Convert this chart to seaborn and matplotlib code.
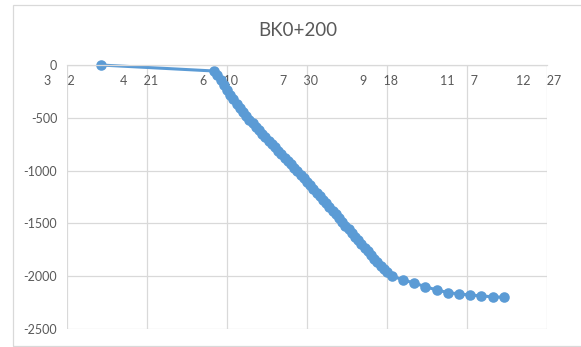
import numpy as np
import pandas as pd
import seaborn as sns
import matplotlib.pyplot as plt
from matplotlib.patches import Rectangle
from matplotlib.transforms import ScaledTranslation

start = pd.Timestamp("2019-03-02")

# days after 3/2 for every reading
day_offsets = [21, 92,
               94, 96, 98, 100, 102, 104, 106, 108, 110, 112,
               114, 116, 118, 120, 122, 124, 126, 128, 130, 132,
               134, 136, 138, 140, 142, 144, 146, 148, 150, 152,
               154, 156, 158, 160, 162, 164, 166, 168, 170, 172,
               174, 176, 178, 180, 182, 184, 186, 188, 190, 192,
               194, 196, 198, 200,
               203, 210, 217, 224, 231, 238, 245, 252, 259, 266, 273]
settlement = [0, -57,
              -90, -140, -190, -235, -280, -325, -365, -405, -445, -485,
              -520, -553, -585, -618, -650, -683, -715, -748, -780, -812,
              -845, -876, -908, -940, -972, -1004, -1038, -1072, -1106, -1140,
              -1174, -1208, -1242, -1276, -1310, -1345, -1380, -1415, -1450, -1485,
              -1520, -1555, -1590, -1625, -1660, -1695, -1730, -1765, -1800, -1835,
              -1868, -1900, -1930, -1958,
              -1995, -2036, -2064, -2100, -2130, -2155, -2168, -2178, -2187, -2195, -2200]

tick_days = [0, 50, 100, 150, 200, 250, 300]
tick_labels = ["3     2", "4     21", "6     10", "7     30", "9     18", "11     7", "12     27"]
y_ticks = [0, -500, -1000, -1500, -2000, -2500]

df = pd.DataFrame({"date": start + pd.to_timedelta(day_offsets, unit="D"),
                   "value": settlement})

sns.set_style("white")
plt.rcParams['font.family'] = ['Lato', 'DejaVu Sans']

fig = plt.figure(figsize=(5.81, 3.47), dpi=100)
ax = fig.add_axes([67/581, 1-329/347, (547-67)/581, (329-65)/347])

grey = "#D9D9D9"
txt = "#595959"
blue = "#5B9BD5"

sns.lineplot(data=df, x="date", y="value", ax=ax, color=blue, lw=2.2,
             marker="o", markersize=7.6, markeredgewidth=0, sort=False,
             estimator=None)
for line in ax.lines:
    line.set_clip_on(False)

ax.set_xlim(start, start + pd.Timedelta(days=300))
ax.set_ylim(-2500, 0)

for s in ["left", "right", "top"]:
    ax.spines[s].set_visible(False)
ax.spines["bottom"].set_position(("data", 0))
ax.spines["bottom"].set_color(grey)
ax.spines["bottom"].set_linewidth(0.9)

ax.set_xticks(start + pd.to_timedelta(tick_days, unit="D"))
ax.set_xticklabels(tick_labels)
ax.set_yticks(y_ticks)
ax.set_yticklabels([str(v) for v in y_ticks])
ax.grid(True, color=grey, lw=0.9)
ax.set_axisbelow(True)
ax.tick_params(axis="x", length=0, pad=7, labelsize=9, labelcolor=txt)
ax.tick_params(axis="y", length=0, pad=7, labelsize=9, labelcolor=txt)
ax.set_xlabel("")
ax.set_ylabel("")

shift = ScaledTranslation(-8/100, 0, fig.dpi_scale_trans)
for lbl in ax.get_xticklabels():
    lbl.set_transform(lbl.get_transform() + shift)

fig.text(297.5/581, 1-31/347, "BK0+200", ha="center", va="center",
         fontsize=13.5, color=txt)

fig.patches.append(Rectangle((13/581, 1-346/347), 1.0, (346-5)/347,
                             transform=fig.transFigure, fill=False,
                             edgecolor=grey, lw=0.9))

fig.savefig("out.png", dpi=100)
